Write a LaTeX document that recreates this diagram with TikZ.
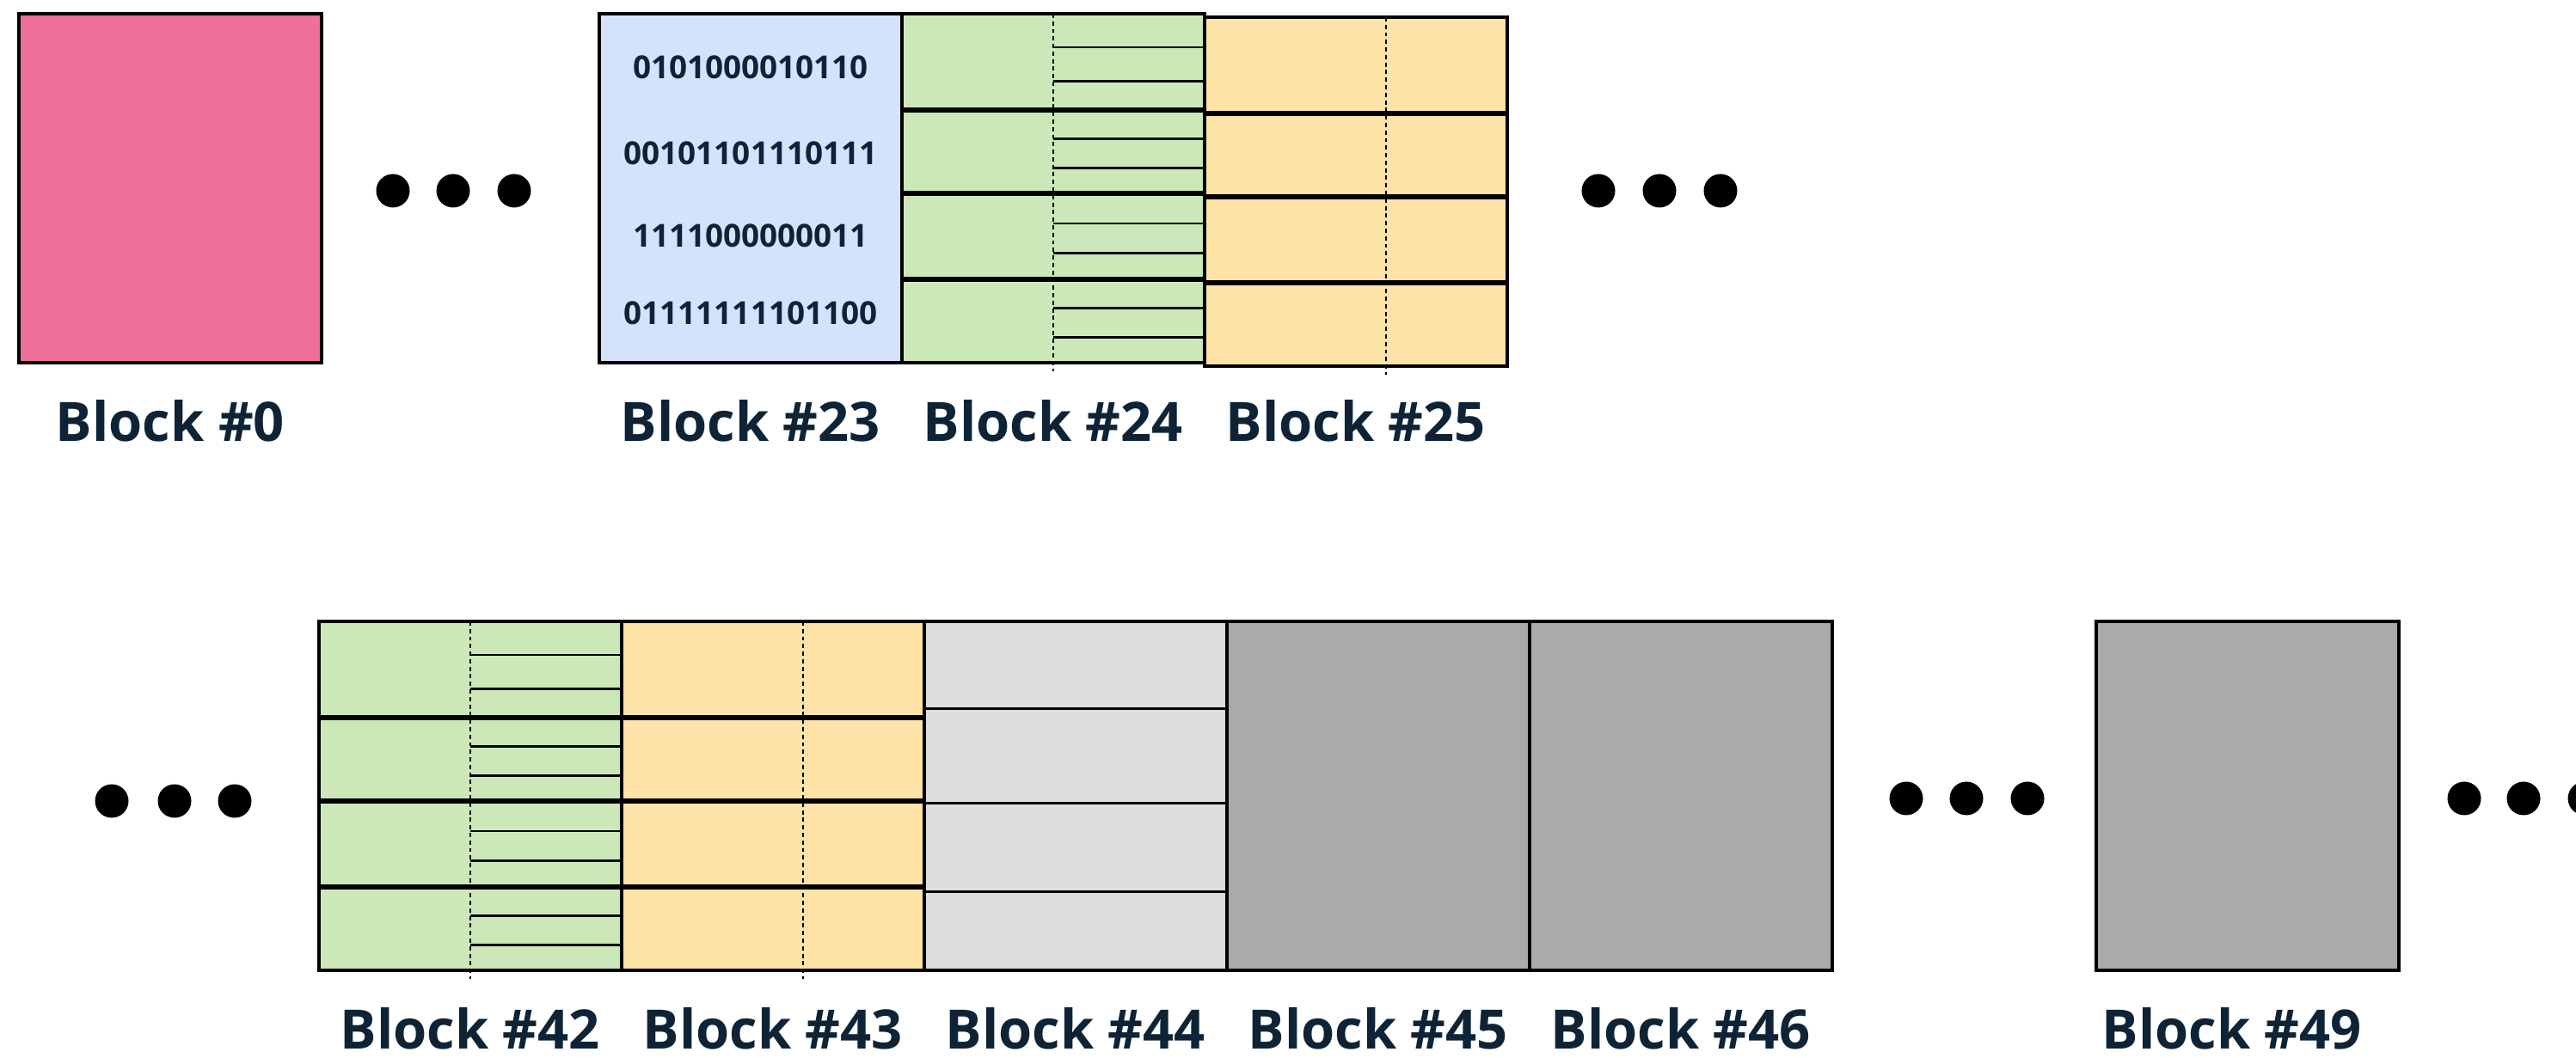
\documentclass[tikz,border=0pt]{standalone}
\usepackage{fontspec}
\setmainfont{Open Sans}
\usepackage{tikz}
\usetikzlibrary{positioning,calc}
\usepackage{xcolor}
\definecolor{blkpink}{HTML}{EE6F9C}
\definecolor{blkblue}{HTML}{D4E3FB}
\definecolor{blkgreen}{HTML}{CDE8B8}
\definecolor{blkyellow}{HTML}{FDE3A7}
\definecolor{blklight}{HTML}{DCDDDF}
\definecolor{blkdark}{HTML}{AAAAAA}
\definecolor{blktext}{HTML}{0E2436}

\begin{document}
\begin{tikzpicture}[
  node distance=0pt,
  blk/.style={draw, line width=0.9pt, outer sep=0pt, inner sep=0pt, minimum width=3.52cm, minimum height=4.06cm},
  lbl/.style={font=\fontsize{18}{20}\selectfont\bfseries, text=blktext, inner sep=0pt},
  bits/.style={font=\fontsize{10.5}{12}\selectfont\bfseries, text=blktext, inner sep=0pt},
  rowline/.style={line width=1.7pt},
  subline/.style={line width=0.8pt},
  midline/.style={line width=0.7pt, dash pattern=on 1.4pt off 1.1pt}
]
\useasboundingbox (0,0) rectangle (29.96,12.31);

% upper row
\node[blk, fill=blkpink] (b0) at (1.98,10.12) {};
\node[blk, fill=blkblue] (b23) at (8.73,10.12) {};
\node[blk, fill=blkgreen, right=of b23] (b24) {};
\node[blk, fill=blkyellow, right=of b24, yshift=-0.4mm] (b25) {};

% lower row
\node[blk, fill=blkgreen] (b42) at (5.47,3.05) {};
\node[blk, fill=blkyellow, right=of b42] (b43) {};
\node[blk, fill=blklight, right=of b43] (b44) {};
\node[blk, fill=blkdark, right=of b44] (b45) {};
\node[blk, fill=blkdark, right=of b45] (b46) {};
\node[blk, fill=blkdark] (b49) at (26.14,3.05) {};

% bit strings
\node[bits] (r1) at ($(b23.north)!.154!(b23.south)$) {0101000010110};
\node[bits] (r2) at ($(b23.north)!.400!(b23.south)$) {00101101110111};
\node[bits] (r3) at ($(b23.north)!.637!(b23.south)$) {1111000000011};
\node[bits] (r4) at ($(b23.north)!.858!(b23.south)$) {01111111101100};

% rows inside the blocks
\foreach \b in {b24,b25,b42,b43}
  \foreach \f in {.275,.515,.76}
    \draw[rowline] ($(\b.north west)!\f!(\b.south west)$) -- ($(\b.north east)!\f!(\b.south east)$);
\foreach \b in {b24,b42}
  \foreach \f in {.096,.193,.359,.443,.601,.687,.844,.928}
    \draw[subline] ($(\b.north)!\f!(\b.south)$) -- ($(\b.north east)!\f!(\b.south east)$);
\foreach \f in {.25,.52,.775}
  \draw[subline] ($(b44.north west)!\f!(b44.south west)$) -- ($(b44.north east)!\f!(b44.south east)$);

% dashed splits
\foreach \b in {b24,b42}
  \draw[midline] (\b.north) -- ([yshift=-1mm]\b.south);
\foreach \b in {b25,b43}
  \draw[midline] ($(\b.north west)!.6!(\b.north east)$) -- ($(\b.south west)!.6!(\b.south east)+(0,-.1)$);

% dots
\foreach \x in {4.57,5.27,5.98,18.59,19.30,20.01}
  \fill (\x,10.09) circle (0.195);
\foreach \x in {1.30,2.03,2.73}
  \fill (\x,2.99) circle (0.195);
\foreach \x in {22.17,22.87,23.58,28.66,29.35,30.06}
  \fill (\x,3.02) circle (0.195);

% labels
\foreach \b/\t in {b0/0,b23/23,b24/24,b42/42,b43/43,b44/44,b45/45,b46/46}
  \node[lbl] (l\t) at ([yshift=-6.8mm]\b.south) {Block \#\t};
\node[lbl] (l25) at ([yshift=-6.4mm]b25.south) {Block \#25};
\node[lbl] (l49) at ([xshift=-1.8mm,yshift=-6.8mm]b49.south) {Block \#49};
\end{tikzpicture}
\end{document}
